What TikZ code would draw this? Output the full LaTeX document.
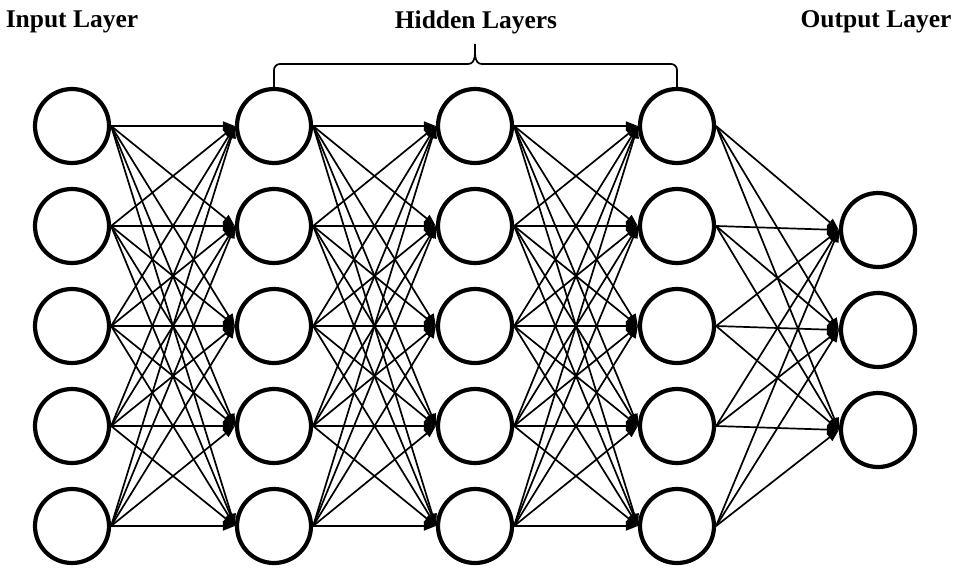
\documentclass[tikz,border=0pt]{standalone}
\usepackage{fontspec}
\setmainfont{Liberation Serif}
\usepackage{tikz}
\usetikzlibrary{
  arrows.meta,
  calc
}
\tikzset{
  neuron/.style={
    circle,
    draw,
    line width=4.2pt,
    minimum size=74pt,
    inner sep=0pt},
  link/.style={
    -{Triangle[length=12pt,width=9pt]},
    line width=1.7pt},
  title/.style={
    font=\bfseries\fontsize{25.5}{29}\selectfont},
  brace/.style={
    line width=1.7pt}
  }

\begin{document}
\begin{tikzpicture}[x=1pt,y=-1pt]
      \useasboundingbox (0,0) rectangle (955,570);
      % layers
      \foreach \i in {1,...,5} {
        \node[neuron] (in\i) at (72,{26+100*\i}) {};
        \node[neuron] (hA\i) at (274,{26+100*\i}) {};
        \node[neuron] (hB\i) at (475,{26+100*\i}) {};
        \node[neuron] (hC\i) at (677,{26+100*\i}) {};
      }
      \foreach \j in {1,2,3}
        \node[neuron] (out\j) at (878,{130+100*\j}) {};
      % full connections
      \foreach \i in {1,...,5} {
        \foreach \j in {1,...,5} {
          \draw[link] (in\i.east) -- (hA\j.west);
          \draw[link] (hA\i.east) -- (hB\j.west);
          \draw[link] (hB\i.east) -- (hC\j.west);
        }
        \foreach \j in {1,2,3}
          \draw[link] (hC\i.east) -- (out\j.west);
      }
      % labels
      \node[title] (intitle) at (72,22) {Input Layer};
      \node[title] (hidtitle) at (476,22) {Hidden Layers};
      \node[title] (outtitle) at (876,22) {Output Layer};
      \coordinate (tip) at (475,44);
      \draw[brace] (hA1.north) -- (274,70) to[out=90,in=180] (280,64)
        -- (468,64) to[out=0,in=-90] (tip) to[out=-90,in=180] (482,64)
        -- (671,64) to[out=0,in=90] (677,70) -- (hC1.north);
    \end{tikzpicture}
\end{document}
